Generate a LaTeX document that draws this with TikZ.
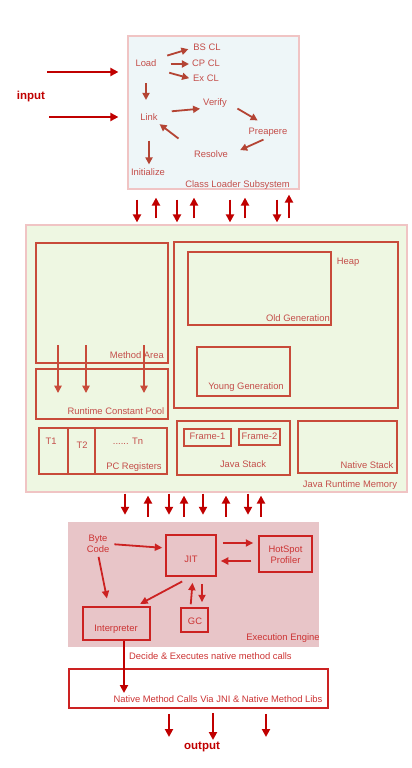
\documentclass[tikz,border=0pt]{standalone}
\usepackage{fontspec}
\setmainfont{Liberation Sans}
\usetikzlibrary{arrows.meta}
\definecolor{clfill}{HTML}{EEF6F8}
\definecolor{clborder}{HTML}{F0C4C4}
\definecolor{jrmfill}{HTML}{EEF7E2}
\definecolor{eefill}{HTML}{E8C5C8}
\definecolor{boxline}{HTML}{C84B3A}
\definecolor{eeline}{HTML}{CC2222}
\definecolor{txt}{HTML}{C44E4A}
\definecolor{eetxt}{HTML}{CC3333}
\definecolor{arrc}{HTML}{C00000}
\begin{document}
\begin{tikzpicture}[x=1pt,y=-1pt,
  lbl/.style={inner sep=1pt,text height=6.8pt,text depth=1.9pt,font=\fontsize{9.4}{11}\selectfont,text=txt},
  eelbl/.style={lbl,text=eetxt},
  bold/.style={inner sep=1pt,font=\fontsize{11.5}{13}\selectfont\bfseries,text=arrc},
  rbox/.style={draw=boxline,line width=1.5pt,inner sep=0pt},
  ebox/.style={draw=eeline,line width=1.5pt,inner sep=0pt},
  arr/.style={draw=arrc,line width=2pt,-{Triangle[length=8pt,width=8pt]}},
  carr/.style={draw=boxline!90!black,line width=1.8pt,-{Triangle[length=7pt,width=7pt]}},
  marr/.style={draw=boxline,line width=1.5pt,-{Triangle[length=7.5pt,width=7.5pt]}},
  earr/.style={draw=eeline,line width=1.8pt,-{Triangle[length=7.5pt,width=7pt]}}]
\useasboundingbox (0,0) rectangle (412,768);

% ---------- Class loader subsystem ----------
\node[draw=clborder,fill=clfill,line width=1.2pt,minimum width=171pt,minimum height=153pt,inner sep=0pt] (cl) at (213.5,112.5) {};
\node[lbl] (load) at (146,64) {Load};
\node[lbl] (bscl) at (207,48) {BS CL};
\node[lbl] (cpcl) at (206,64) {CP CL};
\node[lbl] (excl) at (206,79) {Ex CL};
\node[lbl] (link) at (149,118) {Link};
\node[lbl] (verify) at (215,103) {Verify};
\node[lbl] (prep) at (268,132) {Preapere};
\node[lbl] (resolve) at (211,155) {Resolve};
\node[lbl] (init) at (148,173) {Initialize};
\node[lbl,anchor=east] (cltitle) at (291,185) {Class Loader Subsystem};

\draw[carr,shorten <=10pt,shorten >=4pt] (load.north east) -- (bscl.west);
\draw[carr,shorten <=13pt,shorten >=2pt] (load.east) -- (cpcl.west);
\draw[carr,shorten <=12pt,shorten >=3pt] (load.south east) -- (excl.west);
\draw[carr,shorten <=13.5pt,shorten >=12.5pt] (load.south) -- (load.south |- link.north);
\draw[carr,shorten <=13pt,shorten >=2pt] (link.north east) -- (verify.south west);
\draw[carr,shorten <=11pt,shorten >=12pt] (verify.east) -- (prep.north);
\draw[carr,shorten <=5pt,shorten >=12pt] (prep.south) -- (resolve.east);
\draw[carr,shorten <=18pt,shorten >=1pt] (resolve.north west) -- (link.south east);
\draw[carr,shorten <=17pt,shorten >=3pt] (link.south) -- (link.south |- init.north);

% input
\node[bold] (input) at (31,97) {input};
\coordinate (in1) at (47,72);
\coordinate (in2) at (49,117);
\draw[arr,shorten >=9pt] (in1) -- (cl.west |- in1);
\draw[arr,shorten >=9pt] (in2) -- (cl.west |- in2);

% ---------- Java runtime memory ----------
\node[draw=clborder,fill=jrmfill,line width=1.2pt,minimum width=381pt,minimum height=267pt,inner sep=0pt] (jrm) at (216.5,358.5) {};

\foreach \x/\n in {137/a,177/b,230/c,277/d} {
  \coordinate (dn\n) at (\x,0);
  \draw[arr,shorten <=10pt,shorten >=2pt] (cl.south -| dn\n) -- (jrm.north -| dn\n);
}
\foreach \x/\n/\s in {156/a/8,194/b/8,245/c/8,289/d/5} {
  \coordinate (up\n) at (\x,0);
  \draw[arr,shorten <=6pt,shorten >=\s pt] (jrm.north -| up\n) -- (cl.south -| up\n);
}

\node[rbox,minimum width=132pt,minimum height=120pt] (method) at (102,303) {};
\node[lbl,anchor=east] (methodl) at (165,356) {Method Area};
\node[rbox,minimum width=224pt,minimum height=166pt] (heap) at (286,325) {};
\node[lbl] (heapl) at (348,262) {Heap};
\node[rbox,minimum width=143pt,minimum height=73pt] (old) at (259.5,288.5) {};
\node[lbl,anchor=east] (oldl) at (331,319) {Old Generation};
\node[rbox,minimum width=93pt,minimum height=49pt] (young) at (243.5,371.5) {};
\node[lbl] (youngl) at (246,387) {Young Generation};
\node[rbox,minimum width=132pt,minimum height=50pt] (rcp) at (102,394) {};
\node[lbl] (rcpl) at (116,412) {Runtime Constant Pool};

\foreach \x/\n in {58/a,86/b,144/c} {
  \coordinate (ms\n) at (\x,345);
  \coordinate (me\n) at (\x,393);
  \draw[marr] (ms\n) -- (me\n);
}

\node[rbox,minimum width=128pt,minimum height=46pt] (pc) at (103,451) {};
\node[rbox,minimum width=29pt,minimum height=46pt] (t1box) at (53.5,451) {};
\node[rbox,minimum width=27pt,minimum height=46pt] (t2box) at (81.5,451) {};
\node[lbl] (t1) at (51,442) {T1};
\node[lbl] (t2) at (82,446) {T2};
\node[lbl] (tn) at (128,442) {...... Tn};
\node[lbl] (pcl) at (134,467) {PC Registers};

\node[rbox,minimum width=113pt,minimum height=54pt] (jstack) at (233.5,448) {};
\node[rbox,minimum width=47pt,minimum height=17pt] (frame1) at (207.5,437.5) {};
\node[lbl] at (frame1) {Frame-1};
\node[rbox,minimum width=41pt,minimum height=16pt] (frame2) at (259.5,437) {};
\node[lbl] at (frame2) {Frame-2};
\node[lbl] (jstackl) at (243,465) {Java Stack};
\node[rbox,minimum width=99pt,minimum height=52pt] (nstack) at (347.5,447) {};
\node[lbl] (nstackl) at (367,466) {Native Stack};
\node[lbl] (jrml) at (350,485) {Java Runtime Memory};

% ---------- Execution engine ----------
\node[fill=eefill,minimum width=251pt,minimum height=125pt,inner sep=0pt] (ee) at (193.5,584.5) {};

\foreach \x/\n in {125/a,169/b,203/c,248/d} {
  \coordinate (ed\n) at (\x,0);
  \draw[arr,shorten <=1pt,shorten >=7pt] (jrm.south -| ed\n) -- (ee.north -| ed\n);
}
\foreach \x/\n in {148/a,184/b,226/c,261/d} {
  \coordinate (eu\n) at (\x,0);
  \draw[arr,shorten <=5pt,shorten >=3pt] (ee.north -| eu\n) -- (jrm.south -| eu\n);
}

\node[ebox,minimum width=50pt,minimum height=41pt] (jit) at (191,555.5) {};
\node[eelbl] (jitl) at (191,560) {JIT};
\node[ebox,minimum width=53pt,minimum height=36pt] (hsp) at (285.5,554) {};
\node[eelbl,align=center,text height=,text depth=] (hspl) at (285.5,555) {HotSpot\\Profiler};
\node[ebox,minimum width=67pt,minimum height=33pt] (interp) at (116.5,623.5) {};
\node[eelbl] (interpl) at (116,629) {Interpreter};
\node[ebox,minimum width=27pt,minimum height=24pt] (gc) at (194.5,620) {};
\node[eelbl] (gcl) at (195,622) {GC};
\node[eelbl,align=center,text height=,text depth=] (bc) at (98,544) {Byte\\Code};
\node[eelbl] (eel) at (283,638) {Execution Engine};

\draw[earr,shorten <=4pt,shorten >=3pt] (bc.east) -- ([yshift=7.5pt]jit.west);
\draw[earr,shorten <=3pt,shorten >=8pt] (bc.south) -- ([xshift=-8pt]interp.north);
\draw[earr,shorten <=10pt,shorten >=5pt] (jit.south) -- ([xshift=-15pt]interp.north east);
\draw[earr,shorten <=3pt,shorten >=6pt] ([xshift=-4pt]gc.north) -- ([xshift=2pt]jit.south);
\draw[earr,shorten <=7pt,shorten >=5pt] ([xshift=11pt]jit.south) -- ([xshift=7.5pt]gc.north);
\draw[earr,shorten <=6pt,shorten >=5pt] ([yshift=12.5pt]jit.east) -- ([yshift=11pt]hsp.west);
\draw[earr,shorten <=7pt,shorten >=4pt] ([yshift=-7pt]hsp.west) -- ([yshift=-5.5pt]jit.east);

% ---------- Native method ----------
\node[ebox,fill=white,minimum width=259pt,minimum height=39pt] (native) at (198.5,688.5) {};
\node[eelbl,anchor=west] (decide) at (128,657) {Decide \& Executes native method calls};
\node[eelbl] (nativel) at (218,700) {Native Method Calls Via JNI \& Native Method Libs};
\coordinate (ni) at (124,693);
\draw[arr] (interp.south -| ni) -- (ni);

\coordinate (o1) at (169,737);
\coordinate (o2) at (213,740);
\coordinate (o3) at (266,737);
\draw[arr,shorten <=5pt] (native.south -| o1) -- (o1);
\draw[arr,shorten <=4pt] (native.south -| o2) -- (o2);
\draw[arr,shorten <=5pt] (native.south -| o3) -- (o3);
\node[bold] (output) at (202,747) {output};
\end{tikzpicture}
\end{document}
